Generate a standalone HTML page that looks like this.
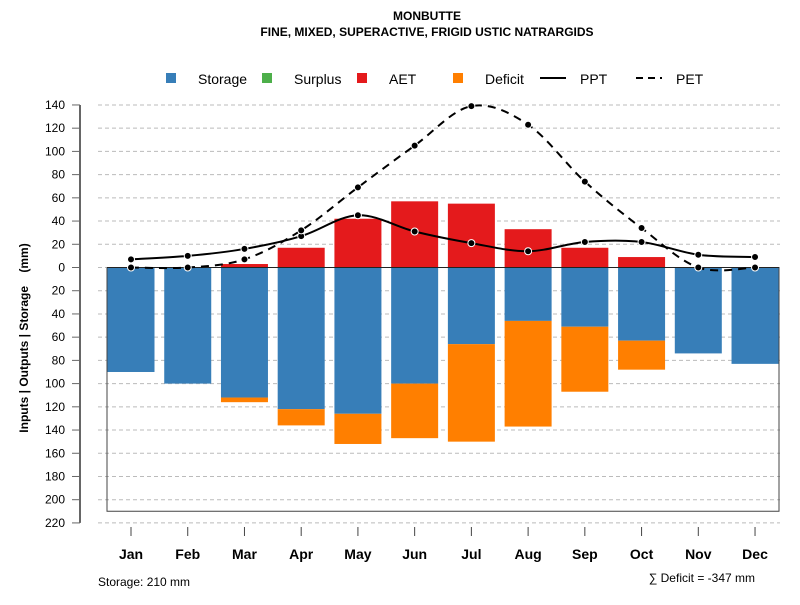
<!DOCTYPE html>
<html><head><meta charset="utf-8"><style>body{margin:0;background:#fff}svg{font-family:"Liberation Sans",sans-serif}</style></head>
<body>
<svg id="c" width="800" height="600">
<text x="427" y="20" text-anchor="middle" font-size="12" font-weight="bold">MONBUTTE</text>
<text x="427" y="36" text-anchor="middle" font-size="12" font-weight="bold">FINE, MIXED, SUPERACTIVE, FRIGID USTIC NATRARGIDS</text>
<g font-size="14">
<rect x="166" y="73" width="10" height="10" fill="#377eb8"/><text x="198" y="84">Storage</text>
<rect x="262" y="73" width="10" height="10" fill="#4daf4a"/><text x="294" y="84">Surplus</text>
<rect x="357" y="73" width="10" height="10" fill="#e41a1c"/><text x="389" y="84">AET</text>
<rect x="453" y="73" width="10" height="10" fill="#ff7f00"/><text x="485" y="84">Deficit</text>
<line x1="540" y1="78" x2="566" y2="78" stroke="#000" stroke-width="2"/><text x="580" y="84">PPT</text>
<line x1="636" y1="78" x2="662" y2="78" stroke="#000" stroke-width="2" stroke-dasharray="7,5"/><text x="676" y="84">PET</text>
</g>
<text transform="translate(28,338) rotate(-90)" text-anchor="middle" font-size="12" font-weight="bold" xml:space="preserve">Inputs | Outputs | Storage    (mm)</text>
<g id="grid"></g><g id="bars"></g><g id="lines"></g><g id="axes"></g>
<text x="98" y="586" font-size="12">Storage: 210 mm</text>
<text x="755" y="582" text-anchor="end" font-size="12">∑ Deficit = -347 mm</text>
</svg>
<script>
const months=["Jan","Feb","Mar","Apr","May","Jun","Jul","Aug","Sep","Oct","Nov","Dec"];
const storage=[90,100,112,122,126,100,66,46,51,63,74,83];
const deficit=[0,0,4,14,26,47,84,91,56,25,0,0];
const aet=[0,0,3,17,42,57,55,33,17,9,0,0];
const surplus=[0,0,0,0,0,0,0,0,0,0,0,0];
const ppt=[7,10,16,27,45,31,21,14,22,22,11,9];
const pet=[0,0,7,32,69,105,139,123,74,34,0,0];
const yTicks=[140,120,100,80,60,40,20,0,20,40,60,80,100,120,140,160,180,200,220];
const storageCap=210;
const NS="http://www.w3.org/2000/svg";
const y=v=>267.5-v*1.161;
const x=i=>131+i*56.73;
const bw=47;
function mk(t,a,p){const e=document.createElementNS(NS,t);for(const k in a)e.setAttribute(k,a[k]);document.getElementById(p).appendChild(e);return e;}
yTicks.forEach((t,i)=>{const v=i<7?t:-t;
 const g=mk('line',{x1:98,x2:780,y1:y(v),y2:y(v),stroke:'#bbb','stroke-dasharray':'4,3'},'grid');
 
 
 const tk=mk('line',{x1:72,x2:80,y1:y(v),y2:y(v),stroke:'#666'},'axes');
 
 
 const l=mk('text',{x:65,y:y(v)+4,'text-anchor':'end','font-size':12},'axes');l.textContent=t;
 
 
});
const ax=mk('line',{x1:80,x2:80,y1:y(140),y2:y(-220),stroke:'#666','stroke-width':2},'axes');


const box=mk('polyline',{points:`107,${y(0)} 107,${y(-storageCap)} 779,${y(-storageCap)} 779,${y(0)}`,fill:'none',stroke:'#444'},'grid');


months.forEach((m,i)=>{
 const s=mk('rect',{x:x(i)-bw/2,y:y(0),width:bw,height:y(-storage[i])-y(0),fill:'#377eb8'},'bars');
 
 
 if(deficit[i]>0){const d=mk('rect',{x:x(i)-bw/2,y:y(-storage[i]),width:bw,height:y(-storage[i]-deficit[i])-y(-storage[i]),fill:'#ff7f00'},'bars');
 
 }
 if(aet[i]>0){const a=mk('rect',{x:x(i)-bw/2,y:y(aet[i]),width:bw,height:y(0)-y(aet[i]),fill:'#e41a1c'},'bars');
 
 }
 const tk=mk('line',{x1:x(i),x2:x(i),y1:527,y2:536,stroke:'#444'},'axes');
 
 
 const l=mk('text',{x:x(i),y:559,'text-anchor':'middle','font-size':14,'font-weight':'bold'},'axes');l.textContent=m;
 
 
});
const z=mk('line',{x1:107,x2:779,y1:y(0),y2:y(0),stroke:'#222'},'bars');


function curve(arr){const n=arr.length;const P=arr.map((v,i)=>[x(i),y(v)]);
 let d=`M${P[0][0]},${P[0][1]}`;
 for(let i=0;i<n-1;i++){const p0=P[Math.max(i-1,0)],p1=P[i],p2=P[i+1],p3=P[Math.min(i+2,n-1)];
  const c1=[p1[0]+(p2[0]-p0[0])/6,p1[1]+(p2[1]-p0[1])/6],c2=[p2[0]-(p3[0]-p1[0])/6,p2[1]-(p3[1]-p1[1])/6];
  d+=` C${c1[0]},${c1[1]} ${c2[0]},${c2[1]} ${p2[0]},${p2[1]}`;}
 return d;}
const pp=mk('path',{d:curve(ppt),fill:'none',stroke:'#000','stroke-width':2},'lines');


const pe=mk('path',{d:curve(pet),fill:'none',stroke:'#000','stroke-width':2,'stroke-dasharray':'8,6'},'lines');


[ppt,pet].forEach((arr,k)=>arr.forEach((v,i)=>{const c=mk('circle',{cx:x(i),cy:y(v),r:3.5,fill:'#000',stroke:'#fff','stroke-width':1},'lines');
 
 }));
</script>
</body></html>
